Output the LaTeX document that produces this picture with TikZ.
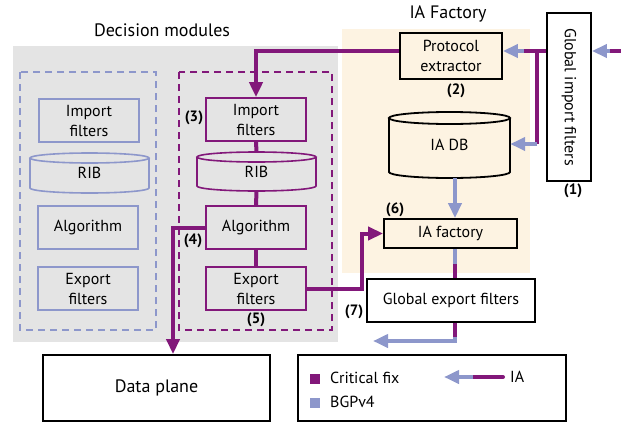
\documentclass[tikz,border=0pt]{standalone}
\usepackage{fontspec}
\usepackage{graphicx}
\setmainfont{PT Sans}
\usetikzlibrary{arrows.meta,calc}
\definecolor{crit}{RGB}{130,24,122}
\definecolor{bgp}{RGB}{141,151,203}
\definecolor{dmgray}{RGB}{228,228,228}
\definecolor{iabeige}{RGB}{253,243,226}

% #1 line style, #2 node name, #3 centre x, #4 top, #5 bottom,
% #6 half width, #7 text, #8 radius of the end ellipses
\newcommand{\drum}[8]{%
  \pgfmathsetmacro\dl{#3-#6}\pgfmathsetmacro\dr{#3+#6}%
  \pgfmathsetmacro\dt{#4+#8}\pgfmathsetmacro\db{#5-#8}%
  \pgfmathsetmacro\dk{0.5523*#8}\pgfmathsetmacro\dkx{0.5523*#6}%
  \pgfmathsetmacro\dmid{(#4+#5)/2}\pgfmathsetmacro\dh{#5-#4}\pgfmathsetmacro\dw{2*#6}%
  \draw[#1] (#3,\dt) ellipse [x radius=#6, y radius=#8];
  \draw[#1] (\dl,\dt) -- (\dl,\db) .. controls (\dl,\db+\dk) and (#3-\dkx,#5) .. (#3,#5)
    .. controls (#3+\dkx,#5) and (\dr,\db+\dk) .. (\dr,\db) -- (\dr,\dt);
  \node[minimum width=\dw pt, minimum height=\dh pt] (#2) at (#3,\dmid) {#7};
}

\begin{document}
\begin{tikzpicture}[x=1pt,y=-1pt,
  every node/.style={font=\fontsize{16}{20}\selectfont, inner sep=0pt, align=center},
  oldbox/.style={draw=bgp, line width=1.6pt, minimum width=100pt, minimum height=43pt},
  newbox/.style={draw=crit, line width=1.6pt, minimum width=100pt, minimum height=43pt},
  plainbox/.style={draw=black, line width=1.8pt},
  tag/.style={font=\fontsize{15}{18}\selectfont\bfseries},
  title/.style={font=\fontsize{18}{21}\selectfont},
  critline/.style={draw=crit, line width=4pt},
  bgpline/.style={draw=bgp, line width=4pt},
  head/.style={-{Triangle[length=15pt,width=13pt]}},
  module/.style={dash pattern=on 7pt off 5pt, line width=1.6pt},
]
\useasboundingbox (0,0) rectangle (621,423);

% background areas
\fill[dmgray] (13,46) rectangle (338,342);
\fill[iabeige] (342,29) rectangle (530,273);
\node[title] (tdm) at (162,30) {Decision modules};
\node[title] (tia) at (448,14) {IA Factory};

% decision modules
\draw[module, draw=bgp] (20,72) rectangle (156,330);
\draw[module, draw=crit] (179,72) rectangle (332,330);

\node[oldbox] (imp1) at (89,120.5) {Import\\filters};
\drum{draw=bgp,line width=1.6pt}{rib1}{89.5}{153}{193}{59.5}{RIB}{5}
\node[oldbox] (alg1) at (88,227.5) {Algorithm};
\node[oldbox] (exp1) at (88,288.5) {Export\\filters};

\node[newbox] (imp2) at (256,119.5) {Import\\filters};
\drum{draw=crit,line width=1.6pt}{rib2}{256.5}{152}{191}{59.5}{RIB}{5}
\node[newbox] (alg2) at (256,227.5) {Algorithm};
\node[newbox] (exp2) at (256,288.5) {Export\\filters};

% IA factory
\node[plainbox, minimum width=102pt, minimum height=46pt] (pe) at (451,56) {Protocol\\extractor};
\drum{draw=black,line width=1.8pt}{iadb}{449.5}{112}{178}{60.5}{IA DB}{6}
\node[plainbox, fill=white, minimum width=44pt, minimum height=168pt] (gif) at (569,97)
  {\rotatebox{-90}{Global import filters}};
\node[plainbox, minimum width=133pt, minimum height=29pt] (iaf) at (450.5,233.5) {IA factory};
\node[plainbox, minimum width=168pt, minimum height=43pt] (gef) at (451,300.5) {Global export filters};
\node[plainbox, minimum width=227pt, minimum height=66pt, font=\fontsize{18}{21}\selectfont] (dp) at (156.5,388) {Data plane};

% step numbers
\node[tag] (n1) at (573,191) {(1)};
\node[tag] (n2) at (456,91) {(2)};
\node[tag] (n3) at (194,118) {(3)};
\node[tag] (n4) at (193,241) {(4)};
\node[tag] (n5) at (256,320) {(5)};
\node[tag] (n6) at (395,210) {(6)};
\node[tag] (n7) at (354,312) {(7)};

% turning points
\coordinate (src) at (621,51);
\coordinate (br) at (537,51);
\coordinate (brk) at (537,144);
\coordinate (t4) at (173,227.5);
\coordinate (t6) at (362,288.5);
\coordinate (col) at (455,0);
\coordinate (t7) at (455,341);
\coordinate (out) at (373,341);

% announcements arriving from the right
\draw[critline] (src) -- ($(src -| gif.east)+(18,0)$);
\draw[bgpline, head] ($(src -| gif.east)+(18,0)$) -- (src -| gif.east);
\draw[critline] (src -| gif.west) -- ($(src -| pe.east)+(21,0)$);
\draw[bgpline, head] ($(src -| pe.east)+(21,0)$) -- (src -| pe.east);
\draw[critline, line cap=square] (br) -- (brk);
\draw[bgpline, head] (brk) -- (brk -| iadb.east);

% critical fix into the decision module
\draw[critline, head] (src -| pe.west) -| (imp2.north);
\draw[critline] (imp2.south) -- (rib2.north);
\draw[critline] (rib2.south) -- (alg2.north);
\draw[critline] (alg2.south) -- (exp2.north);
\draw[critline, head] (alg2.west) -- (t4) -- (t4 |- dp.north);
\draw[critline, head] (exp2.east) -- (t6) |- (iaf.west);

% IA DB to factory to export
\draw[bgpline, head] (iadb.south -| col) -- (iaf.north -| col);
\draw[bgpline] (iaf.south -| col) -- ($(iaf.south -| col)+(0,15)$);
\draw[critline] ($(iaf.south -| col)+(0,15)$) -- (gef.north -| col);
\draw[critline] (gef.south -| col) -- ($(t7)+(0,-4)$);
\draw[bgpline, head] ($(t7)+(0,-4)$) -- (t7) -- (out);

% legend
\node[plainbox, minimum width=268pt, minimum height=66pt] (key) at (432,388) {};
\node[fill=crit, minimum size=10pt] (sqc) at (315,379) {};
\node[anchor=west] (lc) at (330,378) {Critical fix};
\node[fill=bgp, minimum size=10pt] (sqb) at (315,403) {};
\node[anchor=west] (lb) at (330,402) {BGPv4};
\coordinate (ka) at (503,377);
\coordinate (kb) at (444,377);
\draw[critline, line cap=round] (ka) -- ($(kb)+(29,0)$);
\draw[bgpline, head] ($(kb)+(29,0)$) -- (kb);
\node[anchor=west] (lia) at (510,377) {IA};
\end{tikzpicture}
\end{document}
